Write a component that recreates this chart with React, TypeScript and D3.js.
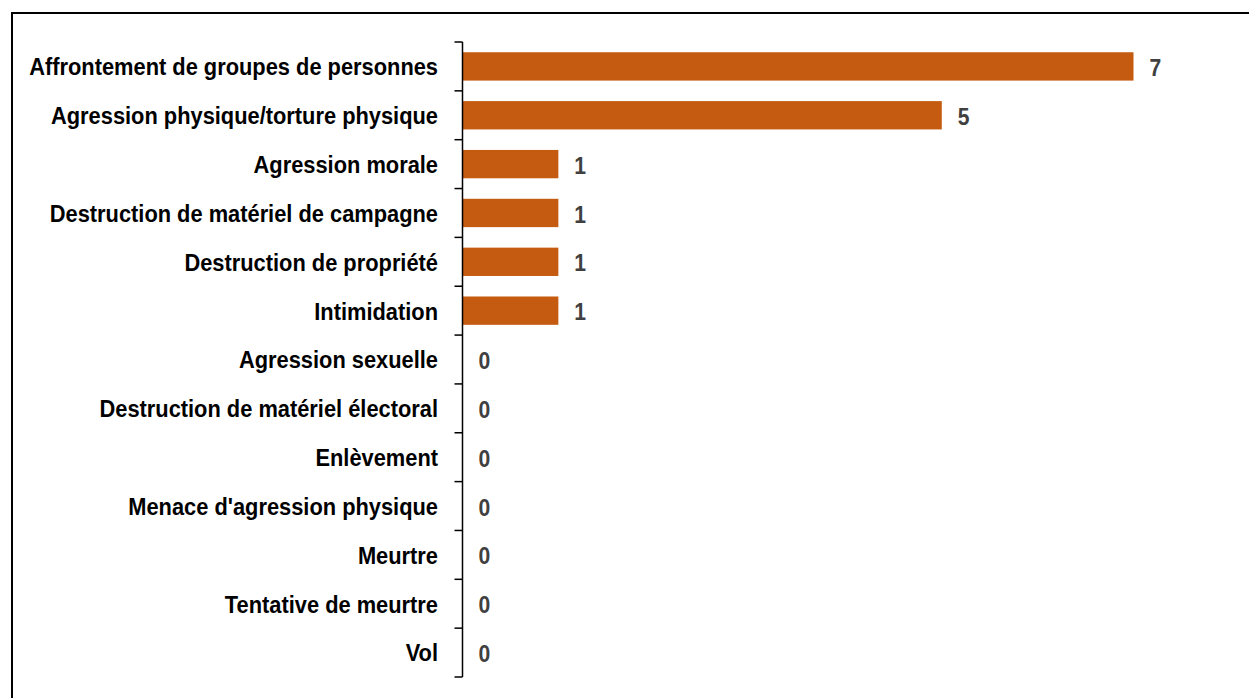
import React, { useRef, useEffect } from "react";
import * as d3 from "d3";

const categories = [
  "Affrontement de groupes de personnes",
  "Agression physique/torture physique",
  "Agression morale",
  "Destruction de matériel de campagne",
  "Destruction de propriété",
  "Intimidation",
  "Agression sexuelle",
  "Destruction de matériel électoral",
  "Enlèvement",
  "Menace d'agression physique",
  "Meurtre",
  "Tentative de meurtre",
  "Vol",
];
const values = [7, 5, 1, 1, 1, 1, 0, 0, 0, 0, 0, 0, 0];

const FONT = "'Liberation Sans', Arial, sans-serif";
// the original uses a slightly condensed bold face
const SX = 0.91;

const App = () => {
  const svgRef = useRef<SVGSVGElement>(null);

  useEffect(() => {
    const width = 1249;
    const height = 698;
    const svg = d3.select(svgRef.current).attr("width", width).attr("height", height);
    svg.selectAll("*").remove();

    // frame
    svg.append("line").attr("x1", 11).attr("x2", width).attr("y1", 13).attr("y2", 13)
      .attr("stroke", "#000").attr("stroke-width", 2);
    svg.append("line").attr("x1", 12).attr("x2", 12).attr("y1", 12).attr("y2", height)
      .attr("stroke", "#000").attr("stroke-width", 2);

    const x0 = 462.5;
    const xScale = d3.scaleLinear().domain([0, 7]).range([x0, x0 + 671]);
    const yScale = d3.scaleBand().domain(categories).range([42, 677]).paddingInner(0.42).paddingOuter(0.21);

    const data = categories.map((c, i) => ({ cat: c, v: values[i] }));
    const cy = (d) => yScale(d.cat) + yScale.bandwidth() / 2;

    // bars
    svg.selectAll(".bar")
      .data(data)
      .enter()
      .append("rect")
      .attr("class", "bar")
      .attr("x", x0)
      .attr("y", (d) => yScale(d.cat))
      .attr("width", (d) => xScale(d.v) - x0)
      .attr("height", yScale.bandwidth())
      .attr("fill", "#C55A11");

    // y-axis with ticks between categories
    const step = yScale.step();
    const axis = svg.append("g");
    axis.append("line").attr("x1", x0).attr("x2", x0).attr("y1", 42).attr("y2", 677)
      .attr("stroke", "#000").attr("stroke-width", 1.5);
    const tickYs = d3.range(categories.length + 1).map((i) => 42 + i * step);
    axis.selectAll(".tick")
      .data(tickYs)
      .enter()
      .append("line")
      .attr("x1", x0 - 8)
      .attr("x2", x0)
      .attr("y1", (d) => d)
      .attr("y2", (d) => d)
      .attr("stroke", "#000")
      .attr("stroke-width", 1.5);

    // category labels
    svg.selectAll(".lbl")
      .data(data)
      .enter()
      .append("text")
      .attr("transform", (d) => `translate(438,${cy(d)}) scale(${SX},1)`)
      .attr("dy", "0.37em")
      .attr("text-anchor", "end")
      .attr("font-family", FONT)
      .attr("font-weight", "bold")
      .attr("font-size", 24)
      .attr("fill", "#000")
      .text((d) => d.cat);

    // value labels
    svg.selectAll(".val")
      .data(data)
      .enter()
      .append("text")
      .attr("transform", (d) => `translate(${xScale(d.v) + 16},${cy(d)}) scale(0.88,1)`)
      .attr("dy", "0.4em")
      .attr("font-family", FONT)
      .attr("font-weight", "bold")
      .attr("font-size", 24)
      .attr("fill", "#404040")
      .text((d) => d.v);
  }, []);

  return <svg ref={svgRef} style={{ position: "absolute", left: 0, top: 0 }}></svg>;
};

export default App;
